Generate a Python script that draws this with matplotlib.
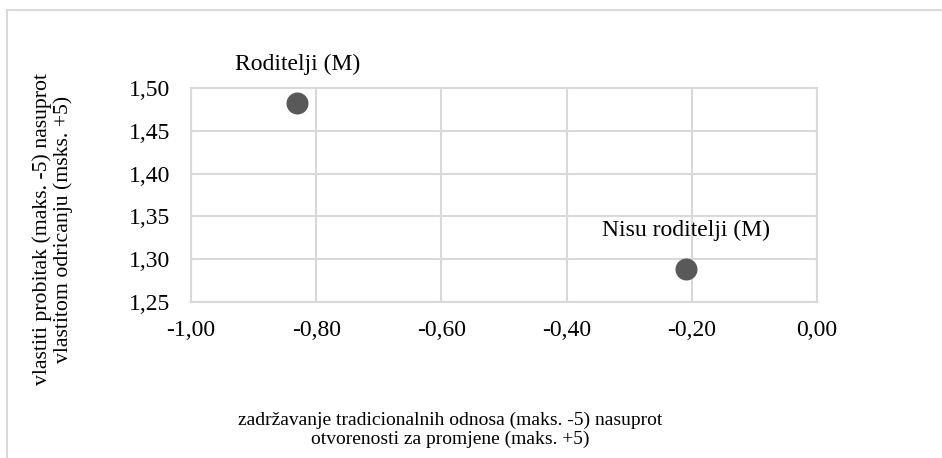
import matplotlib.pyplot as plt
from matplotlib.patches import Rectangle
from matplotlib.ticker import FuncFormatter

# data
labels = ['Roditelji (M)', 'Nisu roditelji (M)']
x_vals = [-0.83, -0.21]
y_vals = [1.483, 1.289]
x_ticks = [-1.00, -0.80, -0.60, -0.40, -0.20, 0.00]
y_ticks = [1.25, 1.30, 1.35, 1.40, 1.45, 1.50]

plt.rcParams['font.family'] = ['Liberation Serif', 'DejaVu Serif']

fig = plt.figure(figsize=(9.42, 4.58), dpi=100)
ax = fig.add_axes([0.2028, 0.3406, 0.6645, 0.4672])

ax.scatter(x_vals, y_vals, s=220, color='#595959', zorder=3)
for lab, x, y in zip(labels, x_vals, y_vals):
    ax.annotate(lab, (x, y), xytext=(0, 20), textcoords='offset points',
                ha='center', va='bottom', fontsize=17, color='black')

ax.set_xlim(-1.0, 0.0)
ax.set_ylim(1.25, 1.50)
ax.set_xticks(x_ticks)
ax.set_yticks(y_ticks)
comma = FuncFormatter(lambda v, p: ('%.2f' % v).replace('.', ','))
ax.xaxis.set_major_formatter(comma)
ax.yaxis.set_major_formatter(comma)
ax.tick_params(length=0, labelsize=17)
ax.tick_params(axis='x', pad=13)
ax.tick_params(axis='y', pad=15)
ax.grid(True, color='#d9d9d9', linewidth=1.5)
ax.set_axisbelow(True)
for s in ax.spines.values():
    s.set_color('#d9d9d9')
    s.set_linewidth(1.5)

fig.text(0.056, 0.5, 'vlastiti probitak (maks. -5) nasuprot\nvlastitom odricanju (msks. +5)',
         rotation=90, ha='center', va='center', fontsize=15.7, linespacing=1.05)
fig.text(0.478, 0.062, 'zadržavanje tradicionalnih odnosa (maks. -5) nasuprot\notvorenosti za promjene (maks. +5)',
         ha='center', va='center', fontsize=14, linespacing=1.12)

fig.patches.append(Rectangle((7 / 942, -0.1), 1.2, 1 - 10 / 458 + 0.1,
                             transform=fig.transFigure, fill=False,
                             edgecolor='#d9d9d9', linewidth=1.5))

fig.savefig('out.png', dpi=100)
